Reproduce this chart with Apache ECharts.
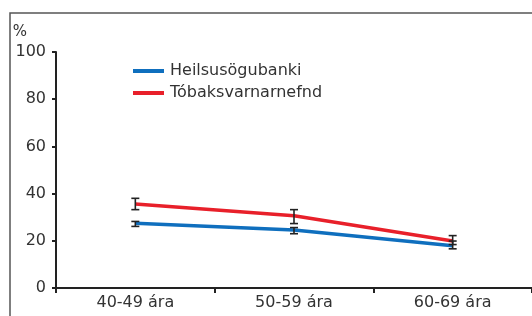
<!DOCTYPE html>
<html>
<head>
<meta charset="utf-8">
<script src="https://cdn.jsdelivr.net/npm/echarts@6/dist/echarts.min.js"></script>
<style>
  html, body { margin: 0; padding: 0; background: #fff; }
  #chart { width: 532px; height: 316px; }
</style>
</head>
<body>
<div id="chart"></div>
<script>
const categories = ['40-49 ára', '50-59 ára', '60-69 ára']
const heilsuValues = [27.4, 24.6, 17.9]
const heilsuLow = [26.1, 23.0, 16.6]
const heilsuHigh = [28.2, 25.6, 19.9]
const tobakValues = [35.6, 30.6, 19.9]
const tobakLow = [33.2, 27.3, 18.4]
const tobakHigh = [38.0, 33.2, 22.2]
const yTicks = [0, 20, 40, 60, 80, 100]

const font = '"DejaVu Sans", sans-serif'
const myChart = echarts.init(document.getElementById('chart'))

// error bars drawn as small I-beams through the axis coordinates
const errorBar = (params, api) => {
  const x = api.value(0)
  const lo = api.coord([x, api.value(1)])
  const hi = api.coord([x, api.value(2)])
  const w = 4
  const style = { stroke: '#222', lineWidth: 1.6 }
  return {
    type: 'group',
    children: [
      { type: 'line', shape: { x1: lo[0], y1: lo[1], x2: hi[0], y2: hi[1] }, style },
      { type: 'line', shape: { x1: lo[0] - w, y1: lo[1], x2: lo[0] + w, y2: lo[1] }, style },
      { type: 'line', shape: { x1: hi[0] - w, y1: hi[1], x2: hi[0] + w, y2: hi[1] }, style }
    ]
  }
}

const option = {
  animation: false,
  textStyle: { fontFamily: font },
  graphic: [{
    type: 'rect',
    shape: { x: 10, y: 13, width: 540, height: 320 },
    style: { fill: 'none', stroke: '#555', lineWidth: 1.5 },
    z: -1
  }],
  legend: {
    orient: 'vertical',
    left: 128,
    top: 58,
    itemWidth: 31,
    itemHeight: 4,
    itemGap: 6,
    icon: 'rect',
    textStyle: { fontSize: 16, color: '#333', fontFamily: font, padding: [0, 0, 0, 1] },
    data: ['Heilsusögubanki', 'Tóbaksvarnarnefnd']
  },
  grid: { left: 56, right: -4, top: 52, bottom: 28 },
  xAxis: {
    type: 'category',
    data: categories,
    boundaryGap: true,
    axisLine: { lineStyle: { color: '#222', width: 2 } },
    axisTick: { show: true, length: 5, inside: false, lineStyle: { color: '#222', width: 2 } },
    axisLabel: { fontSize: 16, color: '#333', margin: 7, fontFamily: font }
  },
  yAxis: {
    type: 'value',
    min: yTicks[0],
    max: yTicks[yTicks.length - 1],
    interval: 20,
    name: '%',
    nameLocation: 'end',
    nameGap: 12,
    nameTextStyle: { fontSize: 15, color: '#333', align: 'right', padding: [0, 29, 0, 0], fontFamily: font },
    axisLine: { show: true, lineStyle: { color: '#222', width: 2 } },
    axisTick: { show: true, length: 4, lineStyle: { color: '#222', width: 2 } },
    splitLine: { show: false },
    axisLabel: { fontSize: 16, color: '#333', margin: 10, fontFamily: font }
  },
  series: [
    {
      name: 'Heilsusögubanki',
      type: 'line',
      data: heilsuValues,
      symbol: 'none',
      color: '#0f6fbe',
      lineStyle: { width: 3.5, color: '#0f6fbe' },
      z: 2
    },
    {
      name: 'Tóbaksvarnarnefnd',
      type: 'line',
      data: tobakValues,
      symbol: 'none',
      color: '#e8202a',
      lineStyle: { width: 3.5, color: '#e8202a' },
      z: 3
    },
    {
      type: 'custom',
      renderItem: errorBar,
      data: categories.map((c, i) => [i, heilsuLow[i], heilsuHigh[i]]),
      encode: { x: 0, y: [1, 2] },
      z: 5
    },
    {
      type: 'custom',
      renderItem: errorBar,
      data: categories.map((c, i) => [i, tobakLow[i], tobakHigh[i]]),
      encode: { x: 0, y: [1, 2] },
      z: 5
    }
  ]
}
myChart.setOption(option)
</script>
</body>
</html>
